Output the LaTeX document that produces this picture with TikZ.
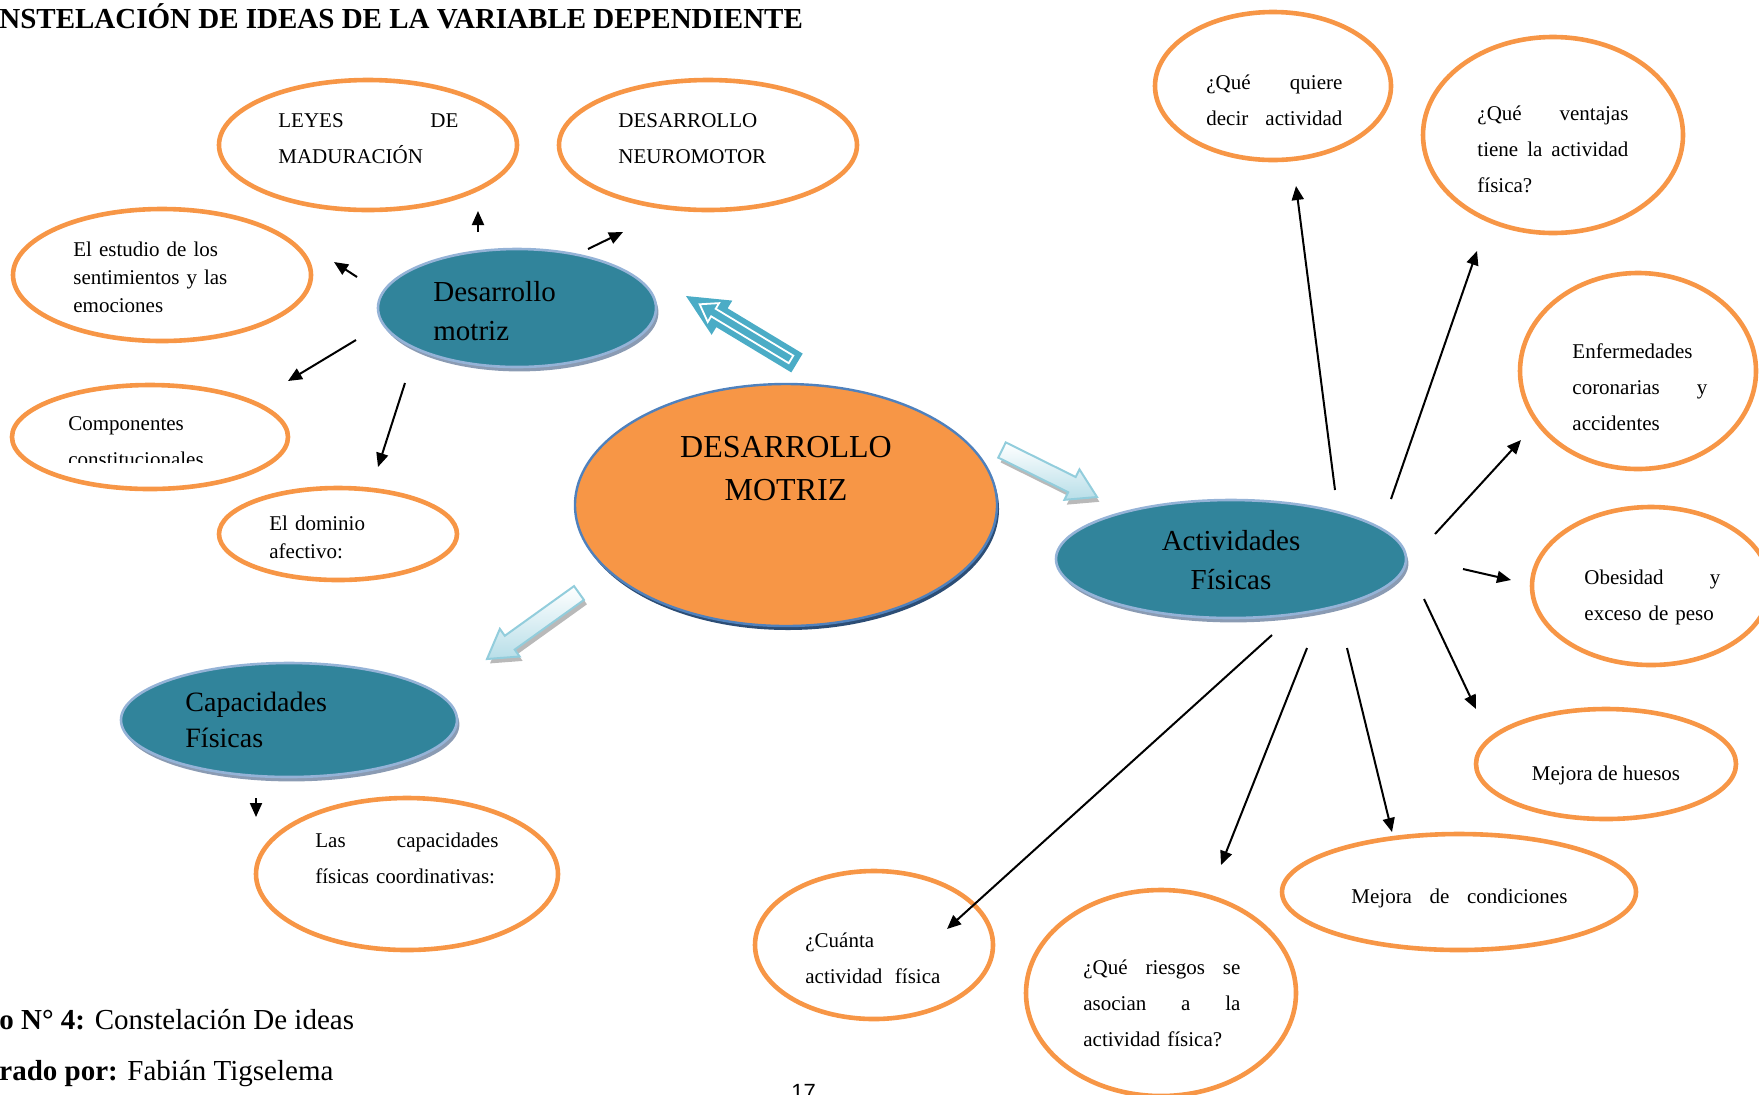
\documentclass[tikz,border=0pt]{standalone}
\usepackage{fontspec}
\setmainfont{Liberation Serif}
\newfontfamily\numfont{Liberation Sans}
\usetikzlibrary{shapes.geometric,arrows.meta,calc,shadows}

\definecolor{ideaorange}{HTML}{F79646}
\definecolor{tealfill}{HTML}{31849B}
\definecolor{tealedge}{HTML}{95B3D7}
\definecolor{tealshadow}{HTML}{8A9BB3}
\definecolor{coreedge}{HTML}{4F81BD}
\definecolor{coreshadow}{HTML}{2C4D75}
\definecolor{bigarrow}{HTML}{4BACC6}
\definecolor{lightedge}{HTML}{92CDDC}
\definecolor{lightfill}{HTML}{B7DEE8}

% block arrow: #1 options, #2 tail, #3 tip, #4 half shaft width, #5 half head width, #6 head length
\newcommand\blockarrow[6]{%
  \coordinate (ba-h) at ($(#3)!#6!(#2)$);
  \path[#1] ($(#2)!#4!90:(#3)$) -- ($(ba-h)!#4!-90:(#2)$) -- ($(ba-h)!#5!-90:(#2)$)
    -- (#3) -- ($(ba-h)!#5!90:(#2)$) -- ($(ba-h)!#4!90:(#2)$) -- ($(#2)!#4!-90:(#3)$) -- cycle;}

\tikzset{
  idea/.style={ellipse, draw=ideaorange, line width=2.3pt, fill=white, inner sep=0pt},
  topic/.style={ellipse, draw=tealedge, line width=1.3pt, fill=tealfill, inner sep=0pt,
    drop shadow={shadow xshift=1.2pt, shadow yshift=-2.2pt, fill=tealshadow, opacity=1}},
  txt/.style={inner sep=0pt, anchor=base west, align=left, font=\fontsize{10.5}{18}\selectfont},
  tight/.style={font=\fontsize{10.5}{14}\selectfont},
  topictxt/.style={inner sep=0pt, anchor=base west, align=left, font=\fontsize{14.5}{19.5}\selectfont},
  link/.style={line width=1pt, -{Triangle[length=7pt,width=6pt]}},
  lightarrow/.style={top color=white, bottom color=lightfill, shading angle=0, draw=lightedge, line width=1pt},
}

\begin{document}
\begin{tikzpicture}[x=0.5pt, y=-0.5pt]
\useasboundingbox (0,0) rectangle (1759,1094);

% heading
\node[inner sep=0pt, anchor=base west, font=\bfseries\fontsize{14.5}{17}\selectfont] (title) at (-1,28)
  {NSTELACIÓN DE IDEAS DE LA VARIABLE DEPENDIENTE};

% idea ellipses
\node[idea, minimum width=149pt, minimum height=65pt] (leyes) at (368,145) {};
\node[idea, minimum width=149pt, minimum height=65pt] (neuro) at (708,145) {};
\node[idea, minimum width=149pt, minimum height=66pt] (estudio) at (162,275) {};
\node[idea, minimum width=138pt, minimum height=52pt] (compo) at (150,437) {};
\node[idea, minimum width=119pt, minimum height=46pt] (dominio) at (338,534) {};
\node[idea, minimum width=151pt, minimum height=76pt] (coord) at (407,874) {};
\node[idea, minimum width=118pt, minimum height=74pt] (quiere) at (1273,86) {};
\node[idea, minimum width=130pt, minimum height=98pt] (ventajas) at (1553,135) {};
\node[idea, minimum width=118pt, minimum height=98pt] (enferm) at (1638,371) {};
\node[idea, minimum width=119pt, minimum height=79pt] (obes) at (1651,586) {};
\node[idea, minimum width=130pt, minimum height=55pt] (huesos) at (1606,764) {};
\node[idea, minimum width=177pt, minimum height=58pt] (condic) at (1459,892) {};
\node[idea, minimum width=135pt, minimum height=103pt] (riesgos) at (1161,993) {};
\node[idea, minimum width=119pt, minimum height=74pt] (cuanta) at (874,945) {};

% idea texts (the base anchor sits on the first line)
\node[txt, text width=90pt] (leyes-t) at (278,127) {LEYES\hfill DE\\MADURACIÓN};
\node[txt, text width=85pt] (neuro-t) at (618,127) {DESARROLLO\\NEUROMOTOR};
\node[txt, tight, text width=80pt] (estudio-t) at (73,256) {El estudio de los\\sentimientos y las\\emociones};
\begin{scope}
  \clip (0,380) rectangle (300,462);
  \node[txt, text width=80pt] (compo-t) at (68,430) {Componentes\\constitucionales};
\end{scope}
\node[txt, tight, text width=60pt] (dominio-t) at (269,530) {El dominio\\afectivo:};
\node[txt, text width=91.5pt] (coord-t) at (315,847) {Las\hfill capacidades\\físicas coordinativas:};
\node[txt, text width=68pt] (quiere-t) at (1206,89) {¿Qué\hfill quiere\\decir\hfill actividad};
\node[txt, text width=75.5pt] (ventajas-t) at (1477,120) {¿Qué\hfill ventajas\\tiene\hfill la\hfill actividad\\física?};
\node[txt, text width=67.5pt] (enferm-t) at (1572,358) {Enfermedades\\coronarias\hfill y\\accidentes};
\node[txt, text width=68pt] (obes-t) at (1584,584) {Obesidad\hfill y\\exceso de peso};
\node[txt, anchor=base] (huesos-t) at (1606,780) {Mejora de huesos};
\node[txt, text width=108pt] (condic-t) at (1351,903) {Mejora\hfill de\hfill condiciones};
\node[txt, text width=78.5pt] (riesgos-t) at (1083,974) {¿Qué\hfill riesgos\hfill se\\asocian\hfill a\hfill la\\actividad física?};
\node[txt, text width=67.5pt] (cuanta-t) at (805,947) {¿Cuánta\\actividad\hfill física};

% central topic and sub-topics
\node[ellipse, fill=coreshadow, inner sep=0pt, minimum width=211pt, minimum height=121pt] (core-sh) at (788,509) {};
\node[ellipse, draw=coreedge, line width=1.2pt, fill=ideaorange, inner sep=0pt,
      minimum width=211pt, minimum height=121pt] (core) at (786,505) {};
\node[inner sep=0pt, anchor=base, align=center, text width=130pt, font=\fontsize{16}{21.5}\selectfont] (core-t) at (786,457)
  {DESARROLLO\\MOTRIZ};

\node[topic, minimum width=139pt, minimum height=59pt] (dm) at (517,308) {};
\node[topictxt, text width=80pt] (dm-t) at (433,301) {Desarrollo\\motriz};
\node[topic, minimum width=168pt, minimum height=57pt] (cf) at (289,720) {};
\node[topictxt, text width=80pt, font=\fontsize{14}{18}\selectfont] (cf-t) at (185,711) {Capacidades\\Físicas};
\node[topic, minimum width=175pt, minimum height=59pt] (af) at (1231,559) {};
\node[topictxt, anchor=base, align=center, text width=100pt] (af-t) at (1231,550) {Actividades\\Físicas};

% block arrows
\coordinate (big-tail) at (797,363);
\coordinate (big-tip) at (686,296);
\blockarrow{fill=bigarrow}{big-tail}{big-tip}{5.5pt}{10pt}{21pt}
\coordinate (big-itail) at ($(big-tail)!3.5pt!(big-tip)$);
\coordinate (big-itip) at ($(big-tip)!8pt!(big-tail)$);
\blockarrow{draw=white, line width=0.9pt}{big-itail}{big-itip}{2.2pt}{5.5pt}{8pt}

\coordinate (af-tail) at (1002,450);
\coordinate (af-tip) at (1097,497);
\begin{scope}[transform canvas={shift={(1.2pt,-2.4pt)}}]
  \blockarrow{fill=gray!55}{af-tail}{af-tip}{4.25pt}{8.5pt}{14pt}
\end{scope}
\blockarrow{lightarrow}{af-tail}{af-tip}{4.25pt}{8.5pt}{14pt}

\coordinate (cf-tail) at (579,593);
\coordinate (cf-tip) at (487,659);
\begin{scope}[transform canvas={shift={(1.5pt,-2.2pt)}}]
  \blockarrow{fill=gray!55}{cf-tail}{cf-tip}{4.25pt}{8.5pt}{14pt}
\end{scope}
\blockarrow{lightarrow}{cf-tail}{cf-tip}{4.25pt}{8.5pt}{14pt}

% links from "Desarrollo motriz"
\coordinate (a1s) at (478,232); \coordinate (a1e) at (478,211);
\coordinate (a2s) at (588,249); \coordinate (a2e) at (623,232);
\coordinate (a3s) at (357,277); \coordinate (a3e) at (334,262);
\coordinate (a4s) at (356,340); \coordinate (a4e) at (288,381);
\coordinate (a5s) at (405,383); \coordinate (a5e) at (378,467);
\draw[link] (a1s) -- (a1e);
\draw[link] (a2s) -- (a2e);
\draw[link] (a3s) -- (a3e);
\draw[link] (a4s) -- (a4e);
\draw[link] (a5s) -- (a5e);

% link from "Capacidades Físicas"
\coordinate (a6s) at (256,798); \coordinate (a6e) at (256,817);
\draw[link] (a6s) -- (a6e);

% links from "Actividades Físicas"
\coordinate (b1s) at (1335,490); \coordinate (b1e) at (1296,186);
\coordinate (b2s) at (1391,499); \coordinate (b2e) at (1477,251);
\coordinate (b3s) at (1435,534); \coordinate (b3e) at (1521,440);
\coordinate (b4s) at (1463,569); \coordinate (b4e) at (1511,580);
\coordinate (b5s) at (1424,599); \coordinate (b5e) at (1476,709);
\coordinate (b6s) at (1347,648); \coordinate (b6e) at (1392,832);
\coordinate (b7s) at (1307,648); \coordinate (b7e) at (1221,865);
\coordinate (b8s) at (1272,635); \coordinate (b8e) at (947,929);
\foreach \k in {b1,b2,b3,b4,b5,b6,b7,b8} \draw[link] (\k s) -- (\k e);

% caption and page number
\node[inner sep=0pt, anchor=base west, font=\fontsize{14.5}{17}\selectfont] (cap1) at (-1,1029)
  {\textbf{o N° 4:} Constelación De ideas};
\node[inner sep=0pt, anchor=base west, font=\fontsize{14.5}{17}\selectfont] (cap2) at (-1,1080)
  {\textbf{rado por:} Fabián Tigselema};
\node[inner sep=0pt, anchor=base west, font=\numfont\fontsize{11}{13}\selectfont] (page) at (791,1099) {17};
\end{tikzpicture}
\end{document}
